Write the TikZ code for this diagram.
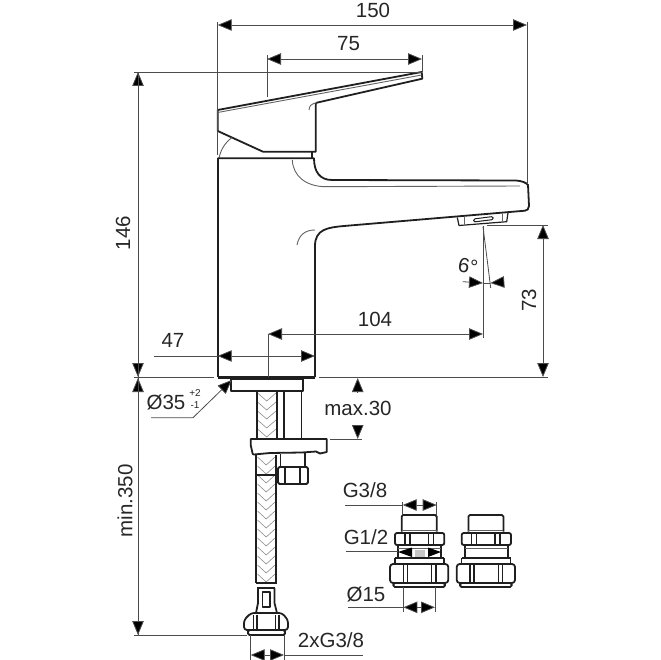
\documentclass[tikz,border=0pt]{standalone}
\usepackage{fontspec}
\setmainfont{Liberation Sans}
\usetikzlibrary{arrows.meta}
\definecolor{inkline}{gray}{0.12}
\definecolor{dimgray}{gray}{0.3}
\begin{document}
\begin{tikzpicture}[x=1pt,y=-1pt,
    outline/.style={draw=inkline, line width=1.8pt, line join=round},
    thinline/.style={draw=inkline!70, line width=0.9pt},
    braid/.style={draw=black!45, line width=0.6pt},
    extline/.style={draw=dimgray, line width=0.8pt},
    dimline/.style={draw=dimgray, line width=0.8pt},
    tips/.style={{Triangle[length=14pt,width=11.5pt,fill=black]}-{Triangle[length=14pt,width=11.5pt,fill=black]}},
    tipend/.style={-{Triangle[length=14pt,width=11.5pt,fill=black]}},
    dimtext/.style={font=\fontsize{20.5}{20.5}\selectfont, text=black!85, inner sep=0pt},
    smalltext/.style={font=\fontsize{10}{10}\selectfont, text=black!85, inner sep=0pt},
    fitting/.pic={
        \draw[outline] (-18.3,-34.3) -- (-18.3,-49.5) -- (-16.8,-51) -- (15.2,-51) -- (16.7,-49.5) -- (16.7,-34.3);
        \draw[thinline] (-18.3,-36) -- (16.7,-36);
        \draw[outline,rounded corners=2pt] (-25,-33) rectangle (24.3,-21);
        \draw[outline,line width=1.3pt] (-15,-33) -- (-15,-21) (-10,-33) -- (-10,-21) (8.3,-33) -- (8.3,-21) (13.3,-33) -- (13.3,-21);
        \draw[outline] (-22,-21) -- (-22,-8) (21,-21) -- (21,-8);
        \draw[thinline] (-22,-18) -- (21,-18);
        \draw[outline,line width=1.3pt] (-25,-8) -- (24,-8) (-25,-8) -- (-25,-2) (24,-8) -- (24,-2);
        \draw[outline,rounded corners=3pt] (-30,-2) rectangle (28.3,17);
        \draw[outline,line width=1.3pt] (-16.7,-2) -- (-16.7,17) (-12.7,-2) -- (-12.7,17) (11.7,-2) -- (11.7,17) (16,-2) -- (16,17);
        \draw[outline,rounded corners=1.5pt] (-26.7,17) rectangle (25,21);
    }
]
\useasboundingbox (0,0) rectangle (660,660);

% Handle
\draw[outline] (217.7,110) -- (421.7,72) -- (422.3,78.7) -- (316.7,102.7) -- (315.7,104) -- (315.7,151.7)
    -- (263,151.7) -- (217.7,131) -- cycle;
\draw[thinline] (217.7,112.5) -- (421.7,75);
\draw[thinline] (316.7,102.7) .. controls (310.5,104) and (309.5,106) .. (309,110);
\draw[outline] (311.7,152) -- (311.7,158);
\draw[thinline] (219,158) .. controls (221,149) and (225,143) .. (231.7,137.7);

% Body and spout
\draw[outline] (217.7,158.3) -- (314,158.3) .. controls (314,172) and (320,180) .. (332,180)
    -- (516,180.5) .. controls (522,181) and (526,182.5) .. (528,185) -- (529,206)
    .. controls (529,209) and (527,210.5) .. (525,210.7) -- (344,226)
    .. controls (328,227.5) and (315,229) .. (315,246) -- (315,377);
\draw[outline] (217.7,158.3) -- (217.7,377);
\draw[outline,line width=2.4pt] (217.7,377.5) -- (315,377.5);
\draw[thinline] (292.3,160) .. controls (293,176) and (306,186.7) .. (326,186.7) -- (520,186);
\draw[thinline] (315,230) .. controls (305,230) and (299,235) .. (297,245);

% Aerator
\draw[outline,line width=1.2pt] (457.3,217.5) -- (459,225.5) -- (506.7,221.7) -- (508,212.7);
\draw[outline,line width=1pt,rounded corners=1.5pt] (473.5,222) -- (473.5,219) -- (493,216.5) -- (493.5,219.5) -- cycle;
\draw[thinline] (464,217) -- (464,224) (502,214) -- (502,221);

% Base and hoses
\draw[outline,line width=1.2pt] (231,379) rectangle (303,391);
\foreach \y in {393,402,...,430} {
    \draw[braid] (257.5,\y) -- (266.7,\y+8) -- (276,\y);
}
\foreach \y in {457,466,...,574} {
    \draw[braid] (257.5,\y) -- (266.2,\y+8) -- (275,\y);
}
\draw[outline] (256.7,391) -- (256.7,439) (276.7,391) -- (276.7,439);
\draw[outline,line width=1.2pt] (284,391) -- (284,439) (301.7,391) -- (301.7,439);
\draw[outline] (256.3,455) -- (256.3,583) (276.3,455) -- (276.3,583);
\draw[outline] (256.3,475) -- (276.3,475);

% Bracket
\draw[outline] (250.7,439) -- (326.7,439) -- (326.7,452) -- (320,453.5) -- (316,451.5) -- (302,452.5) -- (270,453) -- (254,454.5)
    -- (252.7,454) -- (250.7,445) -- cycle;

% Side nut
\draw[outline,line width=1.2pt] (280.7,454) -- (280.7,467) (305,453) -- (305,467);
\draw[outline,rounded corners=1.5pt] (278,467) rectangle (308,484);
\draw[outline,line width=1.2pt] (285,467) -- (285,484) (300,467) -- (300,484);

% Lower hose end
\draw[outline] (256,583) -- (276.5,583) (257,588) -- (275,588);
\draw[outline] (258,588) -- (258,603) -- (256,613) (274.5,588) -- (274.5,603) -- (277,613);
\draw[outline,line width=1.2pt] (262.7,592) rectangle (270,607);
\draw[outline,rounded corners=3pt] (244,630) -- (244,620) -- (251,613) -- (282,613) -- (288,620) -- (288,630) -- cycle;
\draw[outline,line width=1.2pt] (253.5,615) -- (253.5,630) (257,615) -- (257,630) (275.5,615) -- (275.5,630) (279,615) -- (279,630);
\draw[outline,rounded corners=1.5pt] (248,630) rectangle (285,635);

% Fittings
\pic at (420,566) {fitting};
\pic at (486.7,566) {fitting};
\fill[gray!45] (415,549.5) rectangle (425,556.5);
\fill[black] (398,552) -- (412,547.5) -- (412,557) -- cycle;
\fill[black] (441,552) -- (428,547.5) -- (428,557) -- cycle;

% Extension lines
\draw[extline] (217.7,22) -- (217.7,155);
\draw[extline] (527,22) -- (527,183);
\draw[extline] (267,55) -- (267,97);
\draw[extline] (422,55) -- (422,72);
\draw[extline] (134,72) -- (422,72);
\draw[extline] (134,377) -- (214,377);
\draw[extline] (319,377) -- (548,377);
\draw[extline] (487,225) -- (548,225);
\draw[extline] (483,226) -- (483,338);
\draw[extline] (483,226.7) -- (490.7,288);
\draw[extline] (268,334) -- (268,377);
\draw[extline] (134,635) -- (247,635);
\draw[extline] (330,439) -- (361.7,439);
\draw[extline] (402.7,502) -- (402.7,515);
\draw[extline] (436.7,502) -- (436.7,515);
\draw[extline] (403.3,587) -- (403.3,612);
\draw[extline] (435,587) -- (435,612);
\draw[extline] (250.7,635) -- (250.7,660);
\draw[extline] (284,635) -- (284,660);

% Dimension ends
\coordinate (wideL) at (217.7,25);   \coordinate (wideR) at (527,25);
\coordinate (leverL) at (267,59);    \coordinate (leverR) at (422,59);
\coordinate (highT) at (138,72);     \coordinate (highB) at (138,377);
\coordinate (lowT) at (138,378);     \coordinate (lowB) at (138,635);
\coordinate (spoutT) at (543,225);   \coordinate (spoutB) at (543,377);
\coordinate (reachL) at (268,334);   \coordinate (reachR) at (483,334);
\coordinate (bodyL) at (217.7,356);  \coordinate (bodyR) at (315,356);
\coordinate (bodyEnd) at (154,356);
\coordinate (holeTip) at (231.7,380); \coordinate (holeKnee) at (193,417.7); \coordinate (holeEnd) at (151,417.7);
\coordinate (maxT) at (357.7,378);   \coordinate (maxTs) at (357.7,392);
\coordinate (maxB) at (357.7,439);   \coordinate (maxBs) at (357.7,425);
\coordinate (angL) at (483,283);     \coordinate (angLs) at (462.7,281.7);
\coordinate (angR) at (490.3,283);   \coordinate (angRs) at (504,282);
\coordinate (threadL) at (402.7,505); \coordinate (threadR) at (436.7,505); \coordinate (threadEnd) at (345,505);
\coordinate (halfEnd) at (346,551.7); \coordinate (halfR) at (398,551.7);
\coordinate (pipeL) at (403.3,607.3); \coordinate (pipeR) at (435,607.3); \coordinate (pipeEnd) at (348,607.3);
\coordinate (tailL) at (250.7,655);  \coordinate (tailR) at (284,655); \coordinate (tailEnd) at (363,655);

% Dimensions
\draw[dimline,tips] (wideL) -- (wideR);
\draw[dimline,tips] (leverL) -- (leverR);
\draw[dimline,tips] (highB) -- (highT);
\draw[dimline,tipend] (lowB) -- (lowT);
\draw[dimline,tipend] (highT) -- (lowB);
\draw[dimline,tips] (spoutT) -- (spoutB);
\draw[dimline,tips] (reachL) -- (reachR);
\draw[dimline,tips] (bodyL) -- (bodyR);
\draw[dimline] (bodyEnd) -- (bodyL);
\draw[dimline,tipend] (holeEnd) -- (holeKnee) -- (holeTip);
\draw[dimline,tipend] (maxTs) -- (maxT);
\draw[dimline,tipend] (maxBs) -- (maxB);
\draw[dimline,tipend] (angLs) -- (angL);
\draw[dimline,tipend] (angRs) -- (angR);
\draw[dimline] (angL) -- (angR);
\draw[dimline,tips] (threadL) -- (threadR);
\draw[dimline] (threadEnd) -- (threadL);
\draw[dimline] (halfEnd) -- (halfR);
\draw[dimline,tips] (pipeL) -- (pipeR);
\draw[dimline] (pipeEnd) -- (pipeL);
\draw[dimline,tips] (tailL) -- (tailR);
\draw[dimline] (tailR) -- (tailEnd);

% Labels
\node[dimtext] (lab150) at (373,10.5) {150};
\node[dimtext] (lab75) at (348.5,44) {75};
\node[dimtext,rotate=90] (lab146) at (123,233) {146};
\node[dimtext,rotate=90] (lab73) at (529,300) {73};
\node[dimtext,rotate=-10] (lab6) at (468,266) {6°};
\node[dimtext] (lab104) at (375,319) {104};
\node[dimtext] (lab47) at (173,340) {47};
\node[dimtext] (labd35) at (166,402) {Ø35};
\node[smalltext] (labplus) at (195,393.5) {+2};
\node[smalltext] (labminus) at (195,405) {-1};
\node[dimtext] (labmax) at (358,408.5) {max.30};
\node[dimtext,rotate=90] (labmin) at (125,501) {min.350};
\node[dimtext] (labg38) at (365,490.5) {G3/8};
\node[dimtext] (labg12) at (366,537.5) {G1/2};
\node[dimtext] (labd15) at (366,594) {Ø15};
\node[dimtext] (labtail) at (331,640) {2xG3/8};

\end{tikzpicture}
\end{document}
